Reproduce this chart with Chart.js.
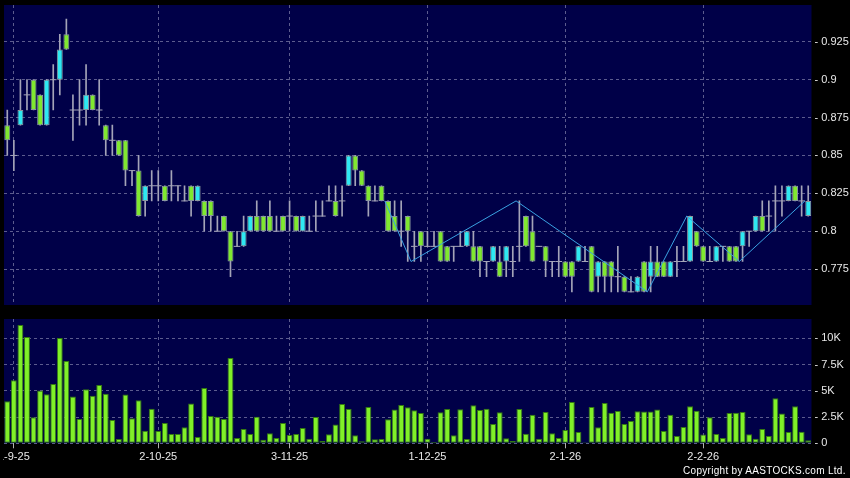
<!DOCTYPE html>
<html>
<head>
<meta charset="utf-8">
<script src="https://cdn.jsdelivr.net/npm/chart.js@4.4.1/dist/chart.umd.min.js"></script>
<style>
  html, body { margin: 0; padding: 0; background: #000; width: 850px; height: 478px; overflow: hidden; }
  #priceBox { position: absolute; left: -20px; top: 0; width: 870px; height: 310px; }
  #volBox { position: absolute; left: -20px; top: 310px; width: 870px; height: 168px; }
  #copy { position: absolute; left: 683px; top: 465px; color: #fff; font: 10px "Liberation Sans", Arial, sans-serif; letter-spacing: 0.3px; white-space: nowrap; }
  #edge { position: absolute; left: 0; top: 446px; width: 3px; height: 20px; background: #000; }
</style>
</head>
<body>
<div id="priceBox"><canvas id="price" width="870" height="310"></canvas></div>
<div id="volBox"><canvas id="vol" width="870" height="168"></canvas></div>
<div id="edge"></div>
<div id="copy">Copyright by AASTOCKS.com Ltd.</div>
<script>
// daily candles, one per trading day (prices in HKD)
const openP = [
  0.87, 0.85, 0.87, 0.89, 0.90, 0.89, 0.87, 0.90, 0.90, 0.93,
  0.88, 0.88, 0.88, 0.89, 0.88, 0.87, 0.86, 0.86, 0.86, 0.84,
  0.84, 0.82, 0.83, 0.83, 0.83, 0.83, 0.83, 0.82, 0.83, 0.82,
  0.82, 0.82, 0.80, 0.81, 0.80, 0.79, 0.79, 0.80, 0.81, 0.81,
  0.81, 0.80, 0.81, 0.81, 0.81, 0.80, 0.80, 0.81, 0.81, 0.82,
  0.82, 0.82, 0.83, 0.85, 0.84, 0.83, 0.82, 0.83, 0.82, 0.81,
  0.80, 0.81, 0.79, 0.80, 0.79, 0.79, 0.80, 0.79, 0.79, 0.79,
  0.79, 0.79, 0.79, 0.78, 0.78, 0.78, 0.78, 0.78, 0.79, 0.81,
  0.80, 0.79, 0.79, 0.78, 0.78, 0.78, 0.78, 0.78, 0.78, 0.79,
  0.77, 0.78, 0.78, 0.77, 0.77, 0.76, 0.76, 0.78, 0.77, 0.78,
  0.78, 0.77, 0.78, 0.78, 0.78, 0.80, 0.79, 0.78, 0.78, 0.79,
  0.79, 0.79, 0.79, 0.80, 0.80, 0.81, 0.81, 0.82, 0.82, 0.82,
  0.83, 0.82, 0.81
];
const highP = [
  0.88, 0.86, 0.90, 0.90, 0.90, 0.89, 0.90, 0.91, 0.93, 0.94,
  0.89, 0.90, 0.91, 0.89, 0.90, 0.87, 0.87, 0.86, 0.86, 0.84,
  0.85, 0.83, 0.84, 0.84, 0.83, 0.84, 0.83, 0.83, 0.83, 0.83,
  0.82, 0.82, 0.81, 0.81, 0.80, 0.80, 0.81, 0.81, 0.82, 0.81,
  0.82, 0.81, 0.81, 0.82, 0.81, 0.81, 0.81, 0.82, 0.82, 0.83,
  0.83, 0.83, 0.85, 0.85, 0.84, 0.83, 0.83, 0.83, 0.82, 0.82,
  0.82, 0.81, 0.80, 0.80, 0.80, 0.80, 0.80, 0.79, 0.79, 0.80,
  0.80, 0.80, 0.79, 0.78, 0.79, 0.79, 0.79, 0.79, 0.82, 0.81,
  0.81, 0.79, 0.79, 0.78, 0.79, 0.78, 0.78, 0.79, 0.79, 0.79,
  0.78, 0.78, 0.78, 0.79, 0.77, 0.77, 0.77, 0.78, 0.79, 0.79,
  0.78, 0.78, 0.79, 0.79, 0.81, 0.80, 0.79, 0.79, 0.79, 0.79,
  0.79, 0.79, 0.80, 0.80, 0.81, 0.82, 0.82, 0.83, 0.83, 0.83,
  0.83, 0.83, 0.83
];
const lowP = [
  0.85, 0.84, 0.87, 0.88, 0.88, 0.87, 0.87, 0.88, 0.89, 0.92,
  0.86, 0.87, 0.87, 0.88, 0.87, 0.85, 0.85, 0.85, 0.83, 0.83,
  0.81, 0.81, 0.82, 0.82, 0.82, 0.82, 0.82, 0.82, 0.81, 0.82,
  0.80, 0.80, 0.80, 0.80, 0.77, 0.79, 0.79, 0.80, 0.80, 0.80,
  0.80, 0.80, 0.80, 0.80, 0.80, 0.80, 0.80, 0.80, 0.81, 0.82,
  0.81, 0.81, 0.83, 0.83, 0.83, 0.81, 0.82, 0.82, 0.80, 0.80,
  0.79, 0.78, 0.78, 0.78, 0.79, 0.79, 0.78, 0.78, 0.78, 0.79,
  0.79, 0.78, 0.77, 0.77, 0.78, 0.77, 0.77, 0.77, 0.78, 0.79,
  0.78, 0.79, 0.77, 0.77, 0.77, 0.77, 0.76, 0.78, 0.78, 0.76,
  0.76, 0.76, 0.76, 0.76, 0.76, 0.76, 0.76, 0.76, 0.76, 0.77,
  0.77, 0.77, 0.77, 0.78, 0.78, 0.79, 0.78, 0.78, 0.78, 0.78,
  0.78, 0.78, 0.78, 0.79, 0.80, 0.80, 0.80, 0.80, 0.81, 0.82,
  0.82, 0.81, 0.81
];
const closeP = [
  0.86, 0.85, 0.88, 0.89, 0.88, 0.87, 0.90, 0.90, 0.92, 0.92,
  0.88, 0.88, 0.89, 0.88, 0.88, 0.86, 0.86, 0.85, 0.84, 0.84,
  0.81, 0.83, 0.83, 0.83, 0.82, 0.83, 0.83, 0.82, 0.82, 0.83,
  0.81, 0.81, 0.80, 0.80, 0.78, 0.79, 0.80, 0.81, 0.80, 0.80,
  0.80, 0.80, 0.80, 0.81, 0.80, 0.81, 0.80, 0.81, 0.81, 0.82,
  0.81, 0.82, 0.85, 0.84, 0.83, 0.82, 0.82, 0.82, 0.80, 0.80,
  0.80, 0.80, 0.79, 0.79, 0.79, 0.79, 0.78, 0.78, 0.79, 0.79,
  0.80, 0.78, 0.78, 0.78, 0.79, 0.77, 0.79, 0.78, 0.79, 0.79,
  0.78, 0.79, 0.78, 0.78, 0.78, 0.77, 0.77, 0.79, 0.78, 0.76,
  0.78, 0.77, 0.77, 0.77, 0.76, 0.76, 0.77, 0.76, 0.78, 0.77,
  0.77, 0.78, 0.78, 0.78, 0.81, 0.79, 0.78, 0.78, 0.79, 0.79,
  0.78, 0.78, 0.80, 0.80, 0.81, 0.80, 0.81, 0.82, 0.82, 0.83,
  0.82, 0.82, 0.82
];
// daily turnover volume, thousands of shares
const volumeK = [
  4.0, 6.0, 11.27, 10.13, 2.48, 5.02, 4.67, 5.65, 10.03, 7.84,
  4.45, 2.32, 5.14, 4.54, 5.56, 4.73, 2.22, 0.41, 4.64, 2.38,
  4.1, 1.2, 3.3, 1.17, 1.94, 0.89, 0.89, 1.52, 3.78, 0.6,
  5.27, 2.6, 2.54, 2.32, 8.13, 0.51, 1.37, 0.89, 2.54, 0.35,
  0.95, 0.51, 1.94, 0.79, 0.89, 1.46, 0.44, 2.51, 0.22, 0.86,
  1.78, 3.75, 3.27, 0.76, 0.19, 3.46, 0.38, 0.41, 2.29, 3.21,
  3.65, 3.43, 3.14, 2.89, 0.44, 0.13, 2.95, 3.27, 0.76, 3.24,
  0.41, 3.62, 3.18, 3.3, 1.84, 2.95, 0.48, 0.22, 3.27, 0.92,
  2.73, 0.44, 2.98, 0.95, 0.51, 1.27, 3.94, 1.08, 0.1, 3.46,
  1.52, 3.84, 2.92, 3.08, 1.84, 2.13, 3.05, 3.02, 3.02, 3.21,
  1.17, 2.73, 0.7, 1.56, 3.52, 3.11, 0.83, 2.48, 0.89, 0.51,
  2.89, 2.92, 2.98, 0.86, 0.44, 1.37, 0.7, 4.29, 2.83, 1.08,
  3.52, 1.11, 0.29
];
// zigzag turning points (candle index, price)
const zigIdx = [58, 62, 78, 98, 104, 112, 122];
const zigVal = [0.82, 0.78, 0.82, 0.76, 0.81, 0.78, 0.82];

// axis ticks
const dateTickIdx = [1, 23, 43, 64, 85, 106];
const dateTickText = ['1-9-25', '2-10-25', '3-11-25', '1-12-25', '2-1-26', '2-2-26'];
const priceTicks = [0.775, 0.8, 0.825, 0.85, 0.875, 0.9, 0.925];
const volTicks = [0, 2.5, 5, 7.5, 10];

const N = closeP.length;
const labels = closeP.map((_, i) => {
  const k = dateTickIdx.indexOf(i);
  return k >= 0 ? dateTickText[k] : '';
});

const upColor = '#2ee8f2';
const downColor = '#80e830';
const gridColor = '#5c5c8e';
const textColor = '#e8e8e8';
const font = { family: '"Liberation Sans", Arial, sans-serif', size: 11 };

const bodies = openP.map((o, i) => o === closeP[i] ? null : [Math.min(o, closeP[i]), Math.max(o, closeP[i])]);
const bodyColors = openP.map((o, i) => closeP[i] > o ? upColor : downColor);
const dojis = openP.map((o, i) => o === closeP[i] ? o : null);
const wicks = lowP.map((l, i) => [l, highP[i]]);

// navy plot area behind the grid
const plotBg = {
  id: 'plotBg',
  beforeDraw(chart) {
    const { ctx, chartArea: a } = chart;
    ctx.save();
    ctx.fillStyle = '#000048';
    ctx.fillRect(a.left, a.top, a.right - a.left, a.bottom - a.top);
    ctx.restore();
  }
};

const dateTicks = s => { s.ticks = dateTickIdx.map(v => ({ value: v })); };
const noPad = s => { s.paddingLeft = 0; s.paddingRight = 0; s.paddingTop = 0; s.paddingBottom = 0; };

Chart.defaults.animation = false;
Chart.defaults.plugins.legend.display = false;
Chart.defaults.plugins.tooltip.enabled = false;

new Chart(document.getElementById('price'), {
  type: 'bar',
  data: {
    labels,
    datasets: [
      {
        // zigzag joins candle left edges, so it sits on a 0..N edge scale
        type: 'line',
        xAxisID: 'xz',
        data: zigIdx.map((x, k) => ({ x, y: zigVal[k] })),
        borderColor: '#3aa2e2',
        borderWidth: 1,
        pointRadius: 0,
        order: 0
      },
      {
        data: bodies,
        backgroundColor: bodyColors,
        borderColor: '#8a98a0',
        borderWidth: 1,
        borderSkipped: false,
        barPercentage: 0.9,
        categoryPercentage: 1,
        grouped: false,
        order: 1
      },
      {
        type: 'line',
        data: dojis,
        showLine: false,
        pointStyle: 'line',
        pointRadius: 3.3,
        borderColor: '#a4a4b8',
        borderWidth: 1,
        order: 2
      },
      {
        data: wicks,
        backgroundColor: '#a4a4b8',
        barThickness: 1,
        grouped: false,
        order: 3
      }
    ]
  },
  options: {
    responsive: false,
    devicePixelRatio: 1,
    layout: { padding: { left: 24, top: 5, right: 0, bottom: 4 } },
    scales: {
      x: {
        offset: true,
        afterBuildTicks: dateTicks,
        afterFit: s => { noPad(s); s.height = 0; },
        grid: { offset: false, color: gridColor, drawTicks: false },
        border: { display: false, dash: [3, 3] },
        ticks: { display: false, autoSkip: false }
      },
      xz: {
        type: 'linear',
        position: 'bottom',
        min: 0,
        max: N,
        offset: false,
        afterFit: s => { noPad(s); s.height = 0; },
        grid: { display: false, drawTicks: false },
        border: { display: false },
        ticks: { display: false }
      },
      y: {
        position: 'right',
        min: 0.7513,
        max: 0.9493,
        afterBuildTicks: s => { s.ticks = priceTicks.map(v => ({ value: v })); },
        afterFit: s => { noPad(s); s.width = 38.5; },
        grid: { color: gridColor, drawTicks: false },
        border: { display: false, dash: [3, 3] },
        ticks: { color: textColor, font, padding: 3, callback: v => '- ' + v }
      }
    }
  },
  plugins: [plotBg]
});

new Chart(document.getElementById('vol'), {
  type: 'bar',
  data: {
    labels,
    datasets: [{
      data: volumeK,
      backgroundColor: '#80f028',
      borderColor: '#347a12',
      borderWidth: 1,
      borderSkipped: false,
      barPercentage: 0.9,
      categoryPercentage: 1
    }]
  },
  options: {
    responsive: false,
    devicePixelRatio: 1,
    layout: { padding: { left: 24, top: 9, right: 0, bottom: 0 } },
    scales: {
      x: {
        offset: true,
        afterBuildTicks: dateTicks,
        afterFit: s => { noPad(s); s.height = 34.7; },
        grid: { offset: false, color: gridColor, tickLength: 5, tickColor: '#b0b0b0' },
        border: { display: false, dash: [3, 3] },
        ticks: { color: textColor, font, padding: 2, autoSkip: false, maxRotation: 0 }
      },
      y: {
        position: 'right',
        min: 0,
        max: 11.84,
        afterBuildTicks: s => { s.ticks = volTicks.map(v => ({ value: v })); },
        afterFit: s => { noPad(s); s.width = 38.5; },
        grid: { color: gridColor, drawTicks: false },
        border: { display: false, dash: [3, 3] },
        ticks: { color: textColor, font, padding: 3, callback: v => '- ' + (v ? v + 'K' : '0') }
      }
    }
  },
  plugins: [plotBg]
});
</script>
</body>
</html>
